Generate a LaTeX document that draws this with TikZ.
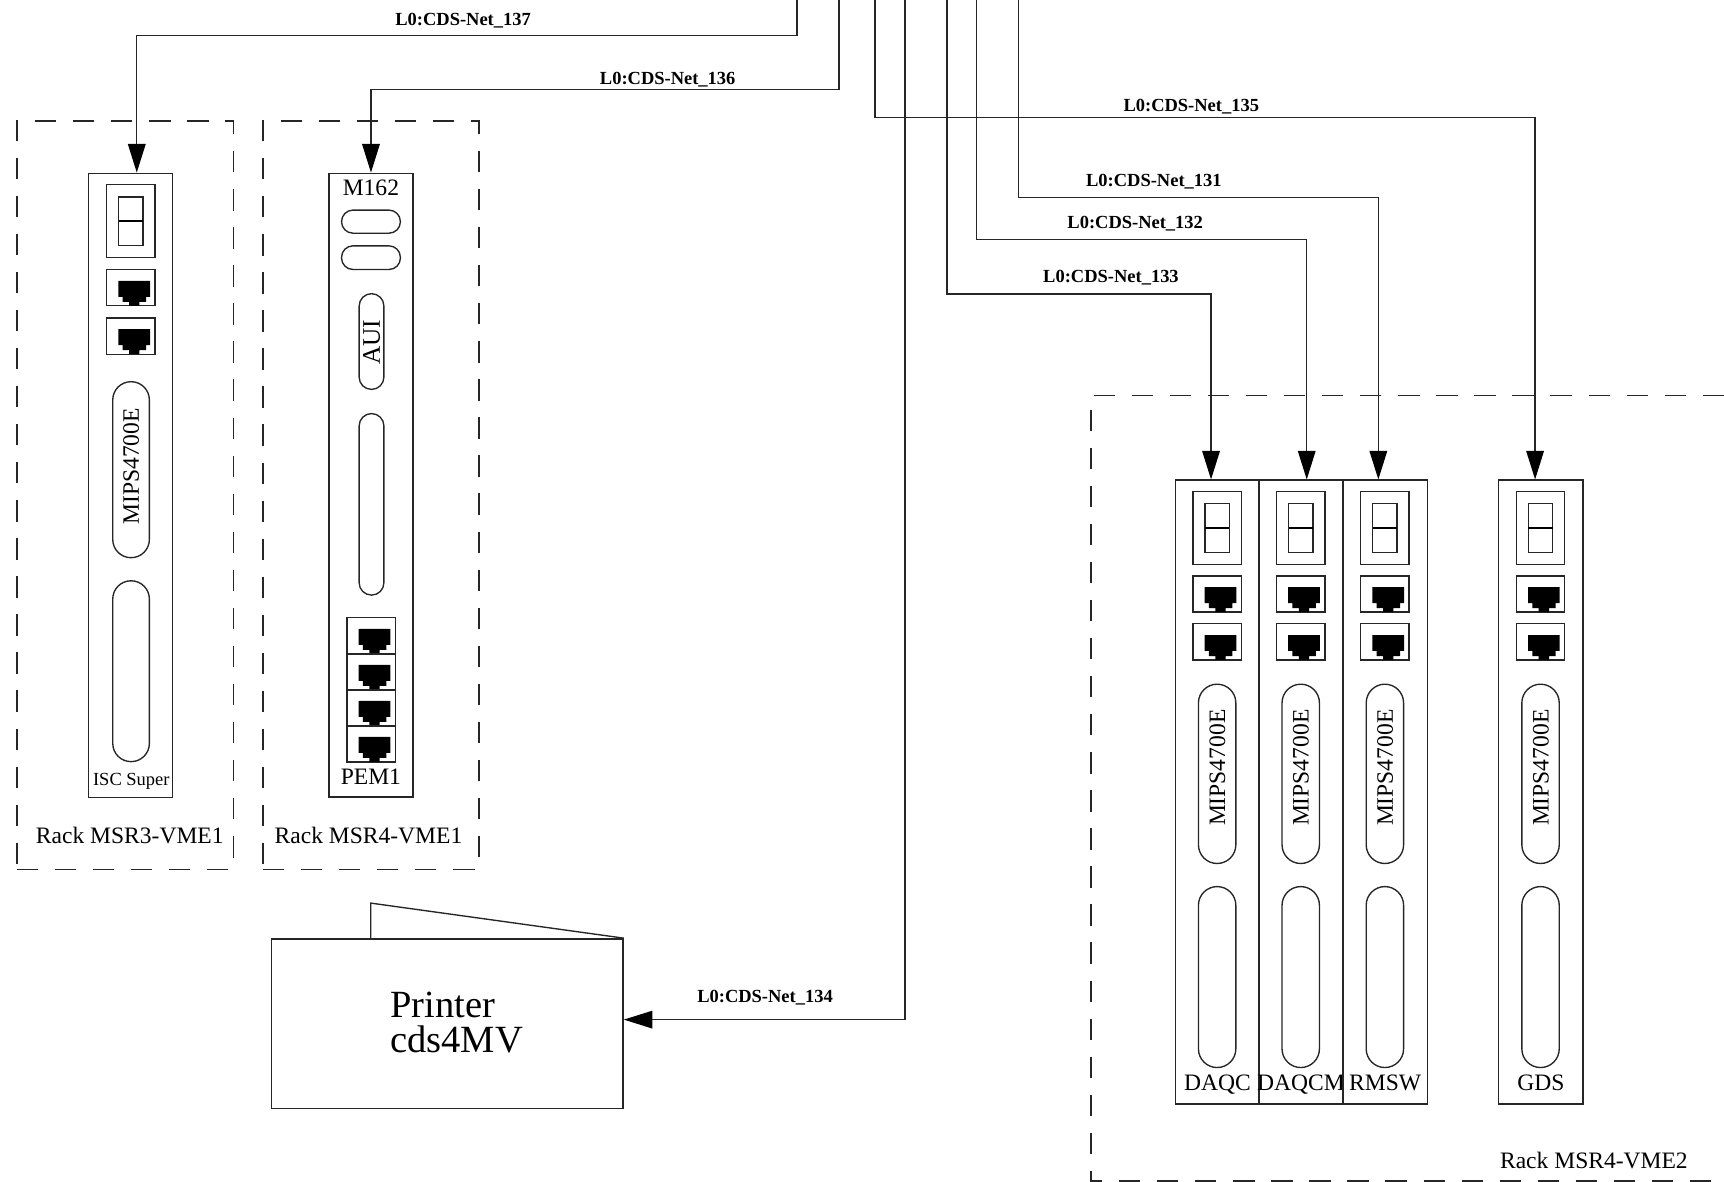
\documentclass[tikz,border=0pt]{standalone}
\usepackage{fontspec}
\setmainfont{Liberation Serif}
\usetikzlibrary{arrows.meta,fit}
\definecolor{lc}{gray}{0.15}
\begin{document}
\begin{tikzpicture}[x=0.5pt,y=-0.5pt,
  ln/.style={draw=lc,line width=0.62pt},
  card/.style={ln,inner sep=0pt,rectangle},
  rack/.style={ln,dash pattern=on 9.7pt off 7.6pt},
  net/.style={ln,-{Triangle[length=13pt,width=8pt,color=black]}},
  netlbl/.style={font=\fontsize{8.4}{10}\selectfont\bfseries,anchor=base,inner sep=0pt},
  lbl/.style={font=\fontsize{10.7}{12}\selectfont,anchor=base,inner sep=0pt},
  smalllbl/.style={font=\fontsize{8.4}{10}\selectfont,anchor=base,inner sep=0pt},
  vtext/.style={font=\fontsize{10.7}{12}\selectfont,rotate=90,inner sep=0pt},
  dispbox/.pic={\draw[ln] (0,0) rectangle (44,66); \draw[ln] (11,11) rectangle (33,55); \draw[draw=black,line width=0.62pt] (11,33) -- (33,33);},
  jackbox/.pic={\draw[ln] (0,0) rectangle (44,33);
    \fill[black] (10.6,10.3) -- (39.4,10.3) -- (39.4,24.8) -- (35.8,24.8) -- (35.8,29.4) -- (29.7,29.4) -- (29.7,33) -- (20.3,33) -- (20.3,29.4) -- (14.5,29.4) -- (14.5,24.8) -- (10.6,24.8) -- cycle;}
]
\useasboundingbox (0,0) rectangle (1567.3,1074.5);

% racks
\node[rack,inner sep=0pt,fit={(15.3,110)(212,790.5)}] (rackA) {};
\node[rack,inner sep=0pt,fit={(239,110)(435.5,790.5)}] (rackB) {};
\draw[rack] (1567.3,359.7) -- (991.8,359.7) -- (991.8,1073.5) -- (1567.3,1073.5);
\node[lbl] (rackAlbl) at (118,766.7) {Rack MSR3-VME1};
\node[lbl] (rackBlbl) at (335,766.7) {Rack MSR4-VME1};
\node[lbl] (rackClbl) at (1449,1062) {Rack MSR4-VME2};

% card ISC Super
\node[card,fit={(80.5,157.5)(157,725)}] (isc) {};
\pic at (97,168) {dispbox};
\pic at (97,245) {jackbox};
\pic at (97,289) {jackbox};
\draw[ln,rounded corners=8.3pt] (102.5,347) rectangle (135.8,507);
\node[vtext] (iscmips) at (119.2,424) {MIPS4700E};
\draw[ln,rounded corners=8.3pt] (102.5,528) rectangle (135.8,692.4);
\node[smalllbl] (isclbl) at (119.4,714.5) {ISC Super};

% card M162 / PEM1
\node[card,fit={(299,157.5)(375.5,724.5)}] (m162) {};
\node[lbl] (m162lbl) at (337.2,177.5) {M162};
\draw[ln,rounded corners=5.2pt] (310.5,191) rectangle (364,212);
\draw[ln,rounded corners=5.2pt] (310.5,223.5) rectangle (364,245);
\draw[ln,rounded corners=5.6pt] (326.5,267) rectangle (349,354);
\node[vtext,font=\fontsize{11.5}{13}\selectfont] (aui) at (337.8,311) {AUI};
\draw[ln,rounded corners=5.6pt] (326.5,376) rectangle (349,541);
\foreach \yy in {561.5,594.2,626.9,659.6} \pic at (315.5,\yy) {jackbox};
\node[lbl] (pemlbl) at (337.2,713.6) {PEM1};

% rack MSR4-VME2 cards
\foreach \L/\nm/\lab in {1068.5/daqc/DAQC,1144.5/daqcm/DAQCM,1221/rmsw/RMSW,1362.5/gds/GDS}{
  \pgfmathsetmacro\R{\L+76.5}
  \pgfmathsetmacro\C{\L+38.25}
  \pgfmathsetmacro\Da{\L+16}
  \pgfmathsetmacro\Sa{\L+21}
  \pgfmathsetmacro\Sb{\L+55}
  \node[card,fit={(\L,436.5)(\R,1003.5)}] (\nm) {};
  \pic at (\Da,447) {dispbox};
  \pic at (\Da,523.5) {jackbox};
  \pic at (\Da,567) {jackbox};
  \draw[ln,rounded corners=8.5pt] (\Sa,622) rectangle (\Sb,785);
  \node[vtext] (\nm mips) at (\C,698) {MIPS4700E};
  \draw[ln,rounded corners=8.5pt] (\Sa,806) rectangle (\Sb,970.5);
  \node[lbl] (\nm lbl) at (\C,991.5) {\lab};
}

% printer
\node[card,fit={(247,853.5)(566.5,1008)}] (printer) {};
\draw[ln] (337,853.5) -- (337,821) -- (printer.north east);
\node[font=\fontsize{17.5}{16}\selectfont,anchor=base west,inner sep=0pt] (ptr1) at (354.5,925) {Printer};
\node[font=\fontsize{17.5}{16}\selectfont,anchor=base west,inner sep=0pt] (ptr2) at (354.5,957) {cds4MV};

% connectors
\coordinate (s137) at (724.5,0);
\coordinate (s136) at (762.7,0);
\coordinate (s135) at (795.5,0);
\coordinate (s134) at (822.7,0);
\coordinate (s133) at (861,0);
\coordinate (s132) at (888,0);
\coordinate (s131) at (925.8,0);

\draw[net] (s137) -- ++(0,32.5) -| ([xshift=2.8pt]isc.north);
\draw[net] (s136) -- ++(0,81.2) -| (m162.north);
\draw[net] (s135) -- ++(0,106.7) -| ([xshift=-2.6pt]gds.north);
\draw[net] (s131) -- ++(0,179.7) -| ([xshift=-3.1pt]rmsw.north);
\draw[net] (s132) -- ++(0,217.6) -| ([xshift=2.6pt]daqcm.north);
\draw[net] (s133) -- ++(0,267.3) -| ([xshift=-2.9pt]daqc.north);
\draw[net] (s134) |- ([yshift=1.9pt]printer.east);

\node[netlbl] (n137) at (421,23.5) {L0:CDS-Net\_137};
\node[netlbl] (n136) at (607,76.5) {L0:CDS-Net\_136};
\node[netlbl] (n135) at (1083,101.5) {L0:CDS-Net\_135};
\node[netlbl] (n131) at (1049,170) {L0:CDS-Net\_131};
\node[netlbl] (n132) at (1032,208) {L0:CDS-Net\_132};
\node[netlbl] (n133) at (1010,257) {L0:CDS-Net\_133};
\node[netlbl] (n134) at (695.5,911.5) {L0:CDS-Net\_134};
\end{tikzpicture}
\end{document}
